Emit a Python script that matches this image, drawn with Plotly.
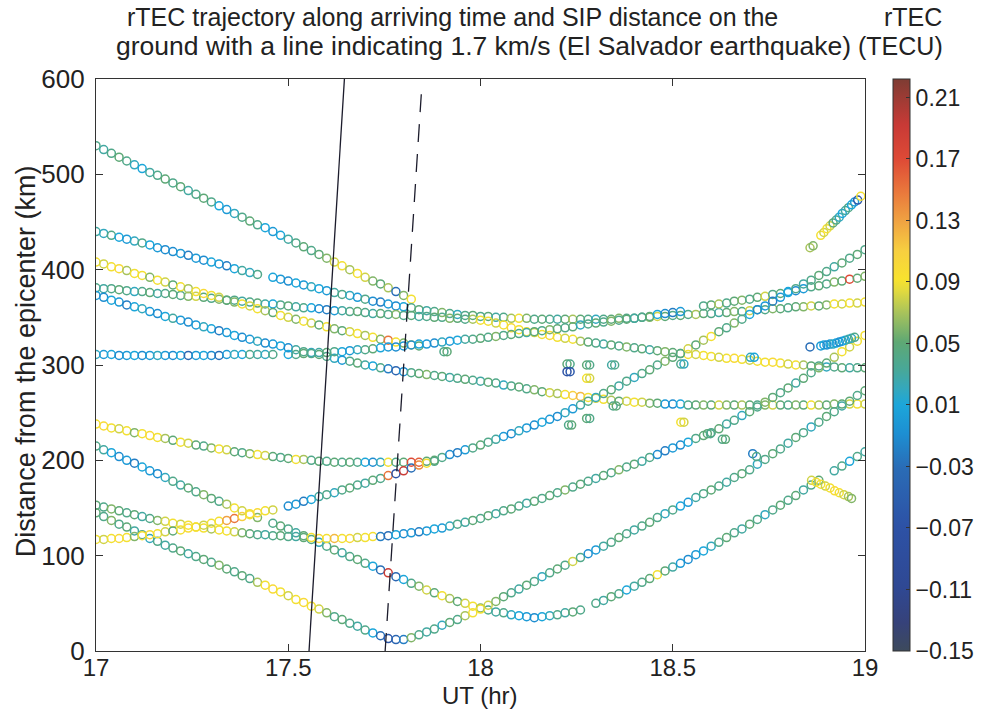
import plotly.graph_objects as go

# ---------------- data ----------------
UT = [17.00, 17.02, 17.04, 17.06, 17.08, 17.10, 17.12, 17.14, 17.16, 17.18,
      17.20, 17.22, 17.24, 17.26, 17.28, 17.30, 17.32, 17.34, 17.36, 17.38,
      17.40, 17.42, 17.44, 17.46, 17.48, 17.50, 17.52, 17.54, 17.56, 17.58,
      17.60, 17.62, 17.64, 17.66, 17.68, 17.70, 17.72, 17.74, 17.76, 17.78,
      17.80, 17.82, 17.84, 17.86, 17.88, 17.90, 17.92, 17.94, 17.96, 17.98,
      18.00, 18.02, 18.04, 18.06, 18.08, 18.10, 18.12, 18.14, 18.16, 18.18,
      18.20, 18.22, 18.24, 18.26, 18.28, 18.30, 18.32, 18.34, 18.36, 18.38,
      18.40, 18.42, 18.44, 18.46, 18.48, 18.50, 18.52, 18.54, 18.56, 18.58,
      18.60, 18.62, 18.64, 18.66, 18.68, 18.70, 18.72, 18.74, 18.76, 18.78,
      18.80, 18.82, 18.84, 18.86, 18.88, 18.90, 18.92, 18.94, 18.96, 18.98,
      19.00]

T530_D = [530, 526, 522, 518, 514, 510, 506, 502, 499, 495, 491, 487, 483, 479, 475, 471, 467, 463, 459, 455,
          451, 447, 444, 440, 436, 432, 428, 424, 420, 416, 412, 408, 404, 400, 396, 392, 388, 385, 381, 377,
          373, 369]
T530_R = [0.04, 0.03, 0.04, 0.05, 0.04, 0.02, 0.01, 0.03, 0.04, 0.05, 0.04, 0.05, 0.03, 0.04, 0.05,
          0.04, 0.01, 0.00, 0.02, 0.04, 0.05, 0.04, 0.01, 0.00, 0.01, 0.03, 0.04, 0.05, 0.04, 0.05,
          0.06, 0.08, 0.09, 0.07, 0.09, 0.08, 0.06, 0.05, 0.07, -0.03, 0.06, 0.09]

T440_D = [440, 438, 436, 434, 432, 430, 428, 426, 423, 421, 419, 417, 415, 412, 410, 408, 406, 404, 401, 399,
          397, 395, None, 392, 390, 388, 386, 384, 382, 380, 378, 376, 374, 373, 371, 369, 367, 366, 364, 362,
          361, 360, 358, 357, 356, 355, 354, 353, 352, 352, 351, 351, 350, 350, 349, 349, 349, 348, 348, 348,
          348, 348, 348, 348, 348, 348, 348, 348, 349, 349, 349, 350, 350, 351, 351, 352, 352, 353, 353, 354,
          354, 355, 355, 356, 356, 357, 358, 358, 359, 359, 360, 361, 361, 362, 362, 363, 364, 364, 365, 365,
          366]
T440_R = [0.03, 0.02, 0.04, 0.01, 0.00, 0.02, 0.04, 0.01, 0.00, -0.01, -0.01, 0.00, -0.02, 0.00, -0.01, 0.01,
          0.00, -0.02, 0.01, 0.03, 0.02, 0.04, 0, 0.01, 0.00, -0.01, 0.01, 0.00, 0.02, 0.01, 0.00, 0.03, 0.04,
          0.02, 0.00, 0.04, -0.01, -0.02, 0.00, -0.01, 0.01, 0.04, 0.05, 0.03, 0.04, 0.06, 0.04, 0.02, 0.04,
          0.05, 0.04, 0.05, 0.03, 0.04, 0.07, 0.09, 0.06, 0.04, 0.05, 0.04, 0.03, 0.05, 0.07, 0.05, 0.04, 0.02,
          0.04, 0.05, 0.06, 0.04, 0.05, 0.04, 0.06, 0.08, 0.05, 0.04, 0.05, 0.04, 0.07, 0.05, 0.04, 0.03, 0.05,
          0.06, 0.04, 0.08, 0.05, 0.04, 0.06, 0.05, 0.04, 0.05, 0.06, 0.08, 0.05, 0.06, 0.09, 0.08, 0.09, 0.08,
          0.09]

T381_D = [381, 380, 380, 379, 378, 377, 377, 376, 375, 375, 374, 373, 372, 372, 371, 370, 369, 368, 368, 367,
          366, 365, 364, 364, 363, 362, 361, 360, 360, 359, 358, 357, 357, 356, 356, 355, 354, 354, 353, 353,
          352, 352, 351, 351, 350, 350, 349, 349, 348, 348, 347, 346, 344, 342, 339, 337, 335, 334, 332, 331,
          329, 328, 327, 325, 324, 323, 322, 321, 320, 319, 318, 317, 316, 315, 314, 313, 312, 311, 311, 310,
          309, 308, 307, 307, 306, 305, 304, 303, 303, 302, 301, 300, 300, 299, 299, 298, 298, 297, 297, 297,
          297]
T381_R = [0.04, 0.03, 0.04, 0.05, 0.04, 0.02, 0.04, 0.05, 0.03, 0.04, 0.05, 0.04, 0.06, 0.08, 0.05, 0.04,
          0.06, 0.05, 0.04, 0.03, 0.04, 0.05, 0.03, 0.01, 0.04, 0.05, 0.03, 0.04, 0.01, -0.01, -0.02, 0.00,
          0.03, 0.04, 0.05, 0.04, 0.03, 0.05, 0.04, 0.06, 0.04, 0.05, 0.03, 0.04, 0.05, 0.04, 0.06, 0.05, 0.04,
          0.07, 0.09, 0.09, 0.08, 0.09, 0.10, 0.09, 0.09, 0.08, 0.09, 0.10, 0.09, 0.08, 0.09, 0.07, 0.05, 0.04,
          0.03, 0.05, 0.04, 0.06, 0.04, 0.05, 0.03, 0.05, 0.06, 0.05, 0.07, 0.09, 0.08, 0.09, 0.09, 0.08, 0.09,
          0.10, 0.09, 0.08, 0.09, 0.09, 0.10, 0.09, 0.08, 0.09, 0.07, 0.05, 0.04, 0.02, 0.04, 0.05, 0.03, 0.04,
          0.05]

T408_D = [408, 406, 403, 401, 399, 396, 394, 392, 389, 387, 384, 382, 380, 377, 375, 373, 371, 368, 366, 364,
          362, 359, 357, 355, 352, 350, 348, 346, 344, 342, 340, 338, 336, 335, 333, 331, 329, 327, 326, 324,
          323, 321, 320]
T408_R = [0.09, 0.08, 0.09, 0.10, 0.07, 0.09, 0.09, 0.06, 0.09, 0.08, 0.05, 0.09, 0.07, 0.09, 0.10, 0.09,
          0.08, 0.05, 0.06, 0.09, 0.08, 0.09, 0.07, 0.05, 0.09, 0.08, 0.06, 0.09, 0.08, 0.05, 0.09, 0.06, 0.05,
          0.08, 0.09, 0.07, 0.09, 0.06, 0.15, 0.09, 0.06, 0.08, 0.05]

T373_D = [373, 371, 368, 366, 363, 361, 359, 356, 354, 351, 349, 347, 345, 342, 340, 338, 336, 334, 331, 329,
          327, 325, 323, 322, 320, 318, 316, 314, 313, 311, 309, 307, 305, 304, 302, 300, 299, 297, 296, 294,
          293, 292, 291, 290, 289, 288, 287, 286, 285, 284, 283, 282, 281, 279, 278, 277, 275, 274, 272, 271,
          270, 269, 268, 267, 266, 265, 264, 263, 262, 262, 261, 261, 260, 260, 259, 259, 259, 258, 258, 258,
          258, 258, 258, 258, 258, 258, 258, 258, 258, 258, 258, 258, 258, 258, 258, 258, 259, 259, 259, 259,
          259]
T373_R = [0.00, -0.01, 0.01, 0.00, -0.02, 0.01, 0.02, 0.00, -0.01, 0.01, 0.03, 0.00, -0.01, 0.00, 0.02, 0.01,
          -0.02, 0.00, 0.01, -0.01, 0.00, 0.02, -0.01, 0.00, 0.01, -0.01, 0.03, 0.04, 0.02, 0.05, 0.04, 0.02,
          0.00, 0.04, 0.05, 0.03, 0.01, 0.04, -0.02, -0.04, -0.01, 0.04, 0.05, 0.06, 0.04, 0.05, 0.03, 0.04,
          0.05, 0.04, 0.03, 0.05, 0.04, 0.02, 0.04, 0.05, 0.04, 0.06, 0.05, 0.08, 0.07, 0.09, 0.11, 0.12, 0.09,
          0.08, 0.09, 0.07, 0.05, 0.08, 0.09, 0.08, 0.06, 0.05, 0.00, -0.01, 0.01, 0.04, 0.05, 0.06, 0.05, 0.08,
          0.06, 0.05, 0.07, 0.05, 0.04, 0.06, 0.08, 0.05, 0.04, 0.06, 0.05, 0.09, 0.07, 0.05, 0.06, 0.05, 0.08,
          0.09, 0.08]

T311_D = [311, 311, 311, 310, 310, 310, 310, 310, 310, 310, 310, 310, 310, 310, 310, 310, 310, 311, 311, 311,
          311, 311, 311, 311, None, 311, 311, 312, 312, 313, 313, 314, 314, 315, 316, 316, 317, 318, 319, 319,
          320, 321, 322, 322, 323, 324, 325, 326, 327, 327, 328, 329, 330, 331, 332, 333, 334, 335, 336, 337,
          338, 339, 340, 342, 343, 344, 345, 346, 347, 348, 349, 350, 351, 353, 354, 355, 356, None, None, 362,
          363, 364, 365, 367, 368, 369, 371, 372, 374, 375, 377, 378, 380, 382, 383, 385, 387, 388, 390, 391,
          393]
T311_R = [0.02, 0.00, 0.01, -0.01, 0.00, 0.01, -0.01, 0.00, 0.02, 0.00, -0.01, 0.01, -0.04, 0.00, 0.01,
          -0.01, -0.03, 0.00, 0.02, 0.01, 0.04, 0.03, 0.02, 0.04, 0, 0.01, 0.04, 0.05, 0.04, 0.03, 0.05, 0.04,
          0.01, 0.00, 0.02, 0.04, 0.05, 0.01, 0.00, -0.01, 0.00, -0.01, 0.01, 0.00, -0.01, 0.02, 0.00, 0.01,
          0.03, 0.04, 0.05, 0.04, 0.06, 0.04, 0.05, 0.04, 0.03, 0.05, 0.04, 0.06, 0.05, 0.04, 0.05, 0.02, 0.04,
          0.05, 0.04, 0.06, 0.04, 0.05, 0.03, 0.04, 0.05, 0.01, -0.01, -0.02, 0.00, 0, 0, 0.04, 0.05, 0.07,
          0.04, 0.05, 0.06, 0.04, 0.05, 0.08, 0.04, 0.05, 0.01, -0.01, 0.00, 0.04, 0.05, 0.04, 0.06, 0.05, 0.17,
          0.05, 0.06]

T238_D = [238, 236, 234, 233, 231, 229, 228, 226, 224, 223, 221, 219, 218, 216, 215, 213, 212, 211, 209, 208,
          207, 206, 205, 204, 203, 202, 201, 201, 200, 199, 199, 198, 198, 198, 198, 198, 198, 198, 198, 198,
          198, 198, 198, 199, 199]
T238_R = [0.09, 0.10, 0.09, 0.08, 0.09, 0.06, 0.09, 0.10, 0.09, 0.07, 0.05, 0.09, 0.08, 0.05, 0.04, 0.06,
          0.09, 0.08, 0.05, 0.04, 0.06, 0.09, 0.08, 0.05, 0.04, 0.05, 0.09, 0.07, 0.04, 0.05, 0.04, 0.05, 0.04,
          0.05, 0.04, 0.01, -0.01, 0.02, 0.09, 0.04, 0.05, 0.17, 0.16, 0.05, 0.04]

T215_D = [215, 211, 208, 204, 200, 197, 193, 189, 186, 182, 178, 174, 171, 167, 164, 160, 157, 154, 150, 147,
          144, 140, None, 134, 131, 128, 124, 121, 117, 114, 110, 106, 103, 99, 96, 92, 89, 85, 82, 78,
          75, 71, 68, 64, 61, 58, 55, 52, 50, 47, 45, 43, 41, 40, 38, 37, 36, 35, 36, 37,
          38, 40, 41, 43, None, 50, 53, 57, 60, 64, 68, 72, 76, 80, 84, 88, 92, 96, 101, 105,
          110, 114, 119, 124, 128, 133, 138, 143, 148, 153, 158, 163, 169, 174, 179, None, 189, 194, 199, 204,
          209]
T215_R = [0.04, 0.03, 0.01, -0.01, 0.00, -0.02, 0.01, 0.00, -0.01, 0.02, 0.04, 0.03, 0.05, 0.04, 0.06, 0.05,
          0.04, 0.07, 0.09, 0.08, 0.09, 0.06, 0, 0.04, 0.05, 0.04, 0.03, 0.05, 0.04, 0.02, 0.04, 0.05, 0.03,
          0.04, 0.05, 0.04, 0.01, -0.03, 0.19, -0.04, 0.01, 0.04, 0.06, 0.08, 0.05, 0.09, 0.07, 0.05, 0.08,
          0.09, 0.06, 0.04, 0.03, 0.04, 0.02, 0.01, 0.00, -0.01, 0.01, 0.02, 0.04, 0.03, 0.05, 0.04, 0, 0.04,
          0.03, 0.05, 0.04, 0.01, 0.03, 0.04, 0.05, 0.09, 0.05, 0.03, 0.00, -0.01, 0.00, 0.01, 0.02, 0.04, 0.05,
          0.04, 0.03, 0.05, 0.04, 0.02, 0.04, 0.05, 0.04, 0.05, 0.03, 0.04, 0.05, 0, 0.03, 0.04, 0.01, 0.04,
          0.03]

T145_D = [145, 141, 137, 133, 130, 126, 122, 118, 115, 111, 108, 105, 102, 99, 96, 93, 90, 86, 83, 79,
          76, 72, 69, 65, 62, 58, 54, 51, 47, 44, 40, 36, 33, 29, 26, 22, 19, 16, 13, 12,
          12, 14, 17, 20, 23, 27, 30, 33, 37, 40, 44, 48, 52, 57, 61, 65, 69, 73, 78, 82,
          86, 90, 94, 98, 102, 106, 110, 114, 119, 123, 127, 131, 135, 140, 144, 148, 152, 156, 161, 165,
          169, 173, 177, 182, 186, 190, 196, 201, 207, 212, 218, 224, 229, 235, 240, 246, 251, 257, 262, 268,
          273]
T145_R = [0.05, 0.04, 0.06, 0.04, 0.05, 0.03, 0.04, 0.02, 0.04, 0.03, 0.04, 0.05, 0.03, 0.04, 0.05, 0.04,
          0.06, 0.05, 0.04, 0.05, 0.04, 0.07, 0.09, 0.10, 0.09, 0.08, 0.09, 0.10, 0.09, 0.08, 0.06, 0.04, 0.05,
          0.04, 0.03, 0.04, 0.01, -0.03, -0.06, -0.04, -0.02, 0.06, 0.04, 0.03, 0.04, 0.02, 0.05, 0.04, 0.07,
          0.09, 0.09, 0.08, 0.06, 0.05, 0.04, 0.03, 0.05, 0.04, 0.02, 0.04, 0.05, 0.04, 0.08, 0.04, -0.01, 0.00,
          0.03, 0.04, 0.05, 0.04, 0.03, 0.04, 0.05, 0.04, 0.02, 0.04, 0.01, 0.00, 0.03, 0.04, 0.05, 0.04, 0.03,
          0.04, 0.05, 0.04, 0.02, 0.04, 0.05, 0.04, 0.03, 0.05, 0.04, 0.02, 0.04, 0.05, 0.04, 0.03, 0.05, 0.04,
          0.05]

T153_D = [153, 151, 149, 147, 145, 143, 141, 139, 137, 136, 134, 133, 132, 130, 129, 128, 127, 126, 125, 124,
          123, 122, 122, 121, 121, 120, 120, 119, 119, 118, 118, 118, 118, 118, 119, 119, 120, 120, 121, 122,
          123, 124, 125, 126, 128, 129, 131, 133, 135, 137, 139, 142, 144, 147, 149, 152, 155, 157, 160, 163,
          166, 169, 172, 175, 178, 181, 184, 187, 190, 193, 196, 199, 203, 206, 210, 213, 216, 219, 223, 226,
          229, 233, 238, 242, 247, 251, 256, 261, 266, 271, 276, 281, 286, 292, 297, 302, 308, 314, 319, 325,
          331]
T153_R = [0.05, 0.04, 0.06, 0.05, 0.04, 0.05, 0.03, 0.04, 0.06, 0.08, 0.09, 0.08, 0.09, 0.10, 0.09, 0.07,
          0.09, 0.09, 0.08, 0.06, 0.05, 0.04, 0.03, 0.04, 0.05, 0.04, 0.03, 0.05, 0.09, 0.10, 0.09, 0.12, 0.09,
          0.10, 0.08, 0.09, 0.09, -0.02, -0.03, 0.01, -0.01, 0.00, -0.02, 0.00, 0.01, 0.00, 0.02, 0.04, 0.03,
          0.05, 0.04, 0.05, 0.03, 0.04, 0.05, 0.04, 0.03, 0.05, 0.04, 0.05, 0.04, 0.06, 0.04, 0.05, 0.04, 0.03,
          0.05, 0.04, 0.06, 0.04, 0.05, 0.03, 0.04, -0.01, -0.02, 0.00, -0.01, 0.01, 0.04, 0.05, 0.04, 0.05,
          0.03, 0.04, 0.02, 0.05, 0.04, 0.06, 0.05, 0.04, 0.05, 0.03, 0.05, 0.04, 0.06, 0.05, 0.07, 0.09, 0.08,
          0.09, 0.09]

T117_D = [117, 117, 118, 118, 119, 120, 121, 122, 123, 125, 126, 127, 129, 130, 132, 134, 136, 137, 139, 141,
          143, 145, 147, 148, None, 152, 154, 157, 159, 162, 164, 166, 169, 171, 174, 176, 179, 181, 184, 186,
          189, 192, 195, 197, 200, 203, 206, 208, 211, 213, 216, 219, 222, 225, 228, 231, 234, 237, 240, 243,
          246, 250, 254, 258, 262, 266, 270, 274, 278, 283, 287, 291, 295, 300, 304, 308, 312, 317, 321, 326,
          330, 335, 339, 344, 348, 353, 358, 362, 367, 371, 376, 380, 385, 389, 394, 398, 403, 407, 412, 416,
          421]
T117_R = [0.09, 0.08, 0.09, 0.10, 0.09, 0.06, 0.09, 0.10, 0.09, 0.08, 0.05, 0.09, 0.10, 0.09, 0.08, 0.09,
          0.09, 0.13, 0.15, 0.11, 0.09, 0.10, 0.09, 0.08, 0, -0.01, 0.00, -0.02, 0.01, 0.03, 0.04, 0.02, 0.04,
          0.05, 0.04, 0.03, 0.05, 0.04, 0.15, -0.07, 0.19, -0.03, 0.14, 0.09, 0.05, 0.04, -0.01, -0.02, 0.00,
          0.04, 0.05, 0.04, 0.03, 0.00, -0.01, 0.02, 0.00, -0.01, 0.01, 0.00, -0.01, 0.02, 0.00, 0.03, 0.04,
          0.02, 0.04, 0.05, 0.03, 0.04, 0.02, 0.04, 0.05, 0.04, 0.06, 0.05, 0.04, 0.08, 0.05, 0.07, 0.09, 0.05,
          0.04, 0.06, 0.04, 0.01, -0.01, 0.00, -0.02, 0.00, 0.01, 0.04, 0.03, 0.04, 0.05, 0.04, 0.03, 0.05,
          0.04, 0.05, 0.04]

# short arcs near the right edge
SEG1_T = [18.857, 18.865, 18.885, 18.893, 18.901, 18.909, 18.917, 18.925, 18.933, 18.941, 18.949, 18.957,
          18.965, 18.973, 18.981, 18.989]
SEG1_D = [423, 425, 436, 439, 443, 446, 449, 452, 455, 459, 462, 465, 468, 471, 473, 477]
SEG1_R = [0.07, 0.06, 0.09, 0.08, 0.09, 0.08, 0.05, 0.04, 0.02, 0.01, 0.03, 0.04, 0.01, 0.00, -0.06, 0.09]

SEG2_T = [18.857, 18.885, 18.893, 18.901, 18.909, 18.917, 18.925, 18.933, 18.941, 18.949, 18.957, 18.965,
          18.973]
SEG2_D = [319, 320, 321, 321, 322, 322, 323, 324, 325, 326, 327, 328, 329]
SEG2_R = [-0.03, 0.00, 0.01, -0.01, 0.00, 0.02, 0.01, -0.01, 0.00, 0.01, 0.03, 0.02, 0.04]

SEG3_T = [18.861, 18.873, 18.885, 18.897, 18.909, 18.921, 18.933, 18.945, 18.957, 18.965]
SEG3_D = [179, 177, 175, 173, 171, 168, 166, 164, 162, 160]
SEG3_R = [0.08, 0.09, 0.09, 0.08, 0.09, 0.10, 0.09, 0.08, 0.07, 0.06]

ISO_T = [17.905, 17.913, 18.225, 18.233, 18.225, 18.233, 18.276, 18.284, 18.276, 18.284, 18.341, 18.349,
         18.229, 18.237, 18.276, 18.284, 18.345, 18.353, 18.521, 18.529, 18.521, 18.529, 18.590, 18.598,
         18.629, 18.637, 18.708, 18.718, 18.702, 18.712]
ISO_D = [314, 314, 301, 301, 293, 293, 300, 300, 286, 286, 300, 300, 237, 237, 244, 244, 257, 257, 240, 240,
         301, 301, 228, 228, 222, 222, 207, 204, 308, 308]
ISO_R = [0.04, 0.05, 0.05, 0.04, -0.07, -0.06, 0.05, 0.04, 0.09, 0.08, 0.03, 0.04, 0.04, 0.05, 0.05, 0.04,
         0.04, 0.05, 0.09, 0.08, 0.04, 0.02, 0.05, 0.04, 0.04, 0.05, -0.02, 0.04, 0.02, 0.01]

# 1.7 km/s reference lines
SOLID_T = [17.554, 17.646]
SOLID_D = [0, 600]
DASH_T = [17.752, 17.846]
DASH_D = [0, 584]

X_TICKS = [17, 17.5, 18, 18.5, 19]
Y_TICKS = [0, 100, 200, 300, 400, 500, 600]
CB_TICKS = [-0.15, -0.11, -0.07, -0.03, 0.01, 0.05, 0.09, 0.13, 0.17, 0.21]
CB_MIN, CB_MAX = -0.15, 0.222

TITLE_1 = "rTEC trajectory along arriving time and SIP distance on the"
TITLE_2 = "ground with a line indicating 1.7 km/s (El Salvador earthquake)"

# ---------------- figure ----------------
COLORSCALE = [
    [0.000, '#3d4a5c'], [0.050, '#36427a'], [0.110, '#2f4893'], [0.220, '#2d52a6'],
    [0.320, '#2a6cb6'], [0.380, '#1d8fd2'], [0.430, '#1ca6da'], [0.460, '#35a8bb'],
    [0.490, '#47a89a'], [0.540, '#5ea874'], [0.590, '#a6c25c'], [0.630, '#e2da3e'],
    [0.650, '#f8e22e'], [0.700, '#f7cf40'], [0.750, '#f0a442'], [0.800, '#ea7a3c'],
    [0.860, '#de4a36'], [0.920, '#c83a36'], [1.000, '#7e3c33'],
]

fig = go.Figure()

tracks = [
    (UT, T530_D, T530_R), (UT, T440_D, T440_R), (UT, T381_D, T381_R), (UT, T408_D, T408_R),
    (UT, T373_D, T373_R), (UT, T311_D, T311_R), (UT, T238_D, T238_R), (UT, T215_D, T215_R),
    (UT, T145_D, T145_R), (UT, T153_D, T153_R), (UT, T117_D, T117_R),
    (SEG1_T, SEG1_D, SEG1_R), (SEG2_T, SEG2_D, SEG2_R), (SEG3_T, SEG3_D, SEG3_R),
    (ISO_T, ISO_D, ISO_R),
]
for t, d, r in tracks:
    fig.add_trace(go.Scatter(
        x=t[:len(d)], y=d, mode='markers', showlegend=False, hoverinfo='skip',
        marker=dict(symbol='circle-open', size=8, color=r, coloraxis='coloraxis',
                    line=dict(width=1.5)),
    ))

fig.add_trace(go.Scatter(x=SOLID_T, y=SOLID_D, mode='lines', showlegend=False, hoverinfo='skip',
                         line=dict(color='#1c1c2c', width=1.3)))
fig.add_trace(go.Scatter(x=DASH_T, y=DASH_D, mode='lines', showlegend=False, hoverinfo='skip',
                         line=dict(color='#1c1c2c', width=1.3, dash='18px,12px')))

L, R, T, B = 96, 124, 79, 71
W, H = 991, 722
PW, PH = W - L - R, H - T - B


def px_x(px):
    return (px - L) / PW


def px_y(py):
    return (H - B - py) / PH


FONT = 'Liberation Sans, Arial, Helvetica, sans-serif'
TXT = '#222222'

fig.update_layout(
    width=W, height=H,
    margin=dict(l=L, r=R, t=T, b=B, pad=0),
    paper_bgcolor='white', plot_bgcolor='white',
    font=dict(family=FONT, color=TXT, size=25),
    hovermode=False,
    xaxis=dict(range=[17, 19], tickvals=X_TICKS, ticks='inside', ticklen=7, tickcolor='#333',
               showline=True, mirror='ticks', linecolor='#333', linewidth=1.2,
               showgrid=False, zeroline=False, tickfont=dict(size=24), ticklabelstandoff=-5),
    yaxis=dict(range=[0, 600], tickvals=Y_TICKS, ticks='inside', ticklen=7, tickcolor='#333',
               showline=True, mirror='ticks', linecolor='#333', linewidth=1.2,
               showgrid=False, zeroline=False, tickfont=dict(size=26), ticklabelstandoff=5),
    coloraxis=dict(
        colorscale=COLORSCALE, cmin=CB_MIN, cmax=CB_MAX,
        colorbar=dict(
            x=px_x(895), xanchor='left', xpad=0, y=0.5, yanchor='middle', ypad=0,
            len=1, lenmode='fraction', thickness=17,
            outlinewidth=1, outlinecolor='#333',
            tickvals=CB_TICKS, tickformat='.2f', ticks='inside', ticklen=4, tickcolor='#333',
            tickfont=dict(size=23, color=TXT, family=FONT),
        ),
    ),
    annotations=[
        dict(text=TITLE_1, x=px_x(453), y=px_y(17), xref='paper', yref='paper',
             xanchor='center', yanchor='middle', showarrow=False, font=dict(size=25)),
        dict(text=TITLE_2, x=px_x(485), y=px_y(46), xref='paper', yref='paper',
             xanchor='center', yanchor='middle', showarrow=False, font=dict(size=26.5)),
        dict(text='rTEC', x=px_x(946), y=px_y(17), xref='paper', yref='paper',
             xanchor='right', yanchor='middle', showarrow=False, font=dict(size=25)),
        dict(text='(TECU)', x=px_x(947), y=px_y(46), xref='paper', yref='paper',
             xanchor='right', yanchor='middle', showarrow=False, font=dict(size=25)),
        dict(text='UT (hr)', x=px_x(481), y=px_y(695), xref='paper', yref='paper',
             xanchor='center', yanchor='middle', showarrow=False, font=dict(size=24)),
        dict(text='Distance from the epicenter (km)', x=px_x(26), y=px_y(361), xref='paper', yref='paper',
             xanchor='center', yanchor='middle', showarrow=False, textangle=-90, font=dict(size=27)),
    ],
)

fig.write_html("out.html", config={'displayModeBar': False},
               post_script="document.body.style.margin='0';document.body.style.overflow='hidden';")
